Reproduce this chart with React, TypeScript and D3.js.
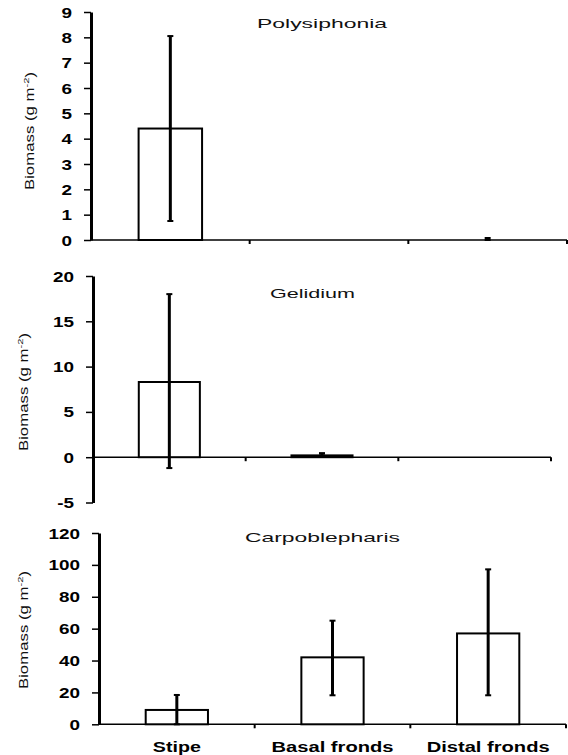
import React, { useRef, useEffect } from 'react';
import * as d3 from 'd3';

// categories along the bottom axis
const categories = ['Stipe', 'Basal fronds', 'Distal fronds'];

// Polysiphonia
const polyMean = [4.4, 0, 0];
const polyUpper = [8.05, 0, 0.08];
const polyLower = [0.75, 0, 0];
const polyTicks = [0, 1, 2, 3, 4, 5, 6, 7, 8, 9];

// Gelidium
const gelMean = [8.3, 0.2, 0];
const gelUpper = [18, 0.45, 0];
const gelLower = [-1.2, 0.2, 0];
const gelTicks = [-5, 0, 5, 10, 15, 20];

// Carpoblepharis
const carpMean = [9, 42, 57];
const carpUpper = [18.4, 65, 97.2];
const carpLower = [0, 18.2, 18.2];
const carpTicks = [0, 20, 40, 60, 80, 100, 120];

const W = 568;
const H = 755;

export default function App() {
  const svgRef = useRef(null);

  useEffect(() => {
    const svg = d3.select(svgRef.current);
    svg.selectAll('*').remove();

    const panels = [
      {
        title: 'Polysiphonia', mean: polyMean, upper: polyUpper, lower: polyLower, ticks: polyTicks,
        left: 91, right: 567, yRange: [240, 12],
        titleX: 257, titleY: 28, titleLen: 130, labelX: 34, labelY: 131, showCats: false,
      },
      {
        title: 'Gelidium', mean: gelMean, upper: gelUpper, lower: gelLower, ticks: gelTicks,
        left: 93, right: 551, yRange: [502.5, 276],
        titleX: 270, titleY: 298, titleLen: 85, labelX: 28, labelY: 392, showCats: false,
      },
      {
        title: 'Carpoblepharis', mean: carpMean, upper: carpUpper, lower: carpLower, ticks: carpTicks,
        left: 99, right: 566, yRange: [724.3, 533],
        titleX: 245, titleY: 542, titleLen: 155, labelX: 28, labelY: 630, showCats: true,
      },
    ];

    panels.forEach((p) => {
      const g = svg.append('g');
      const y = d3.scaleLinear()
        .domain(d3.extent(p.ticks))
        .range(p.yRange);
      const x = d3.scaleBand()
        .domain(categories)
        .range([p.left, p.right])
        .paddingInner(0.6)
        .paddingOuter(0.3);
      const step = x.step();
      const y0 = y(0);

      // x axis line with downward ticks at category boundaries
      g.append('line')
        .attr('x1', p.left).attr('x2', p.right)
        .attr('y1', y0).attr('y2', y0)
        .attr('stroke', '#000').attr('stroke-width', 1.5);
      categories.forEach((c, i) => {
        const tx = p.left + (i + 1) * step;
        g.append('line')
          .attr('x1', tx).attr('x2', tx)
          .attr('y1', y0).attr('y2', y0 + 4)
          .attr('stroke', '#000').attr('stroke-width', 2);
      });

      // bars
      g.selectAll('rect.bar')
        .data(categories.filter((c, i) => p.mean[i] > 0))
        .enter()
        .append('rect')
        .attr('class', 'bar')
        .attr('x', (c) => x(c))
        .attr('width', x.bandwidth())
        .attr('y', (c) => y(p.mean[categories.indexOf(c)]))
        .attr('height', (c) => y0 - y(p.mean[categories.indexOf(c)]))
        .attr('fill', '#fff')
        .attr('stroke', '#000')
        .attr('stroke-width', 2);

      // error bars
      categories.forEach((c, i) => {
        if (p.upper[i] === p.lower[i]) return;
        const cx = x(c) + x.bandwidth() / 2;
        g.append('line')
          .attr('x1', cx).attr('x2', cx)
          .attr('y1', y(p.upper[i])).attr('y2', y(p.lower[i]))
          .attr('stroke', '#000').attr('stroke-width', 3);
        [p.upper[i], p.lower[i]].forEach((v) => {
          g.append('line')
            .attr('x1', cx - 3).attr('x2', cx + 3)
            .attr('y1', y(v)).attr('y2', y(v))
            .attr('stroke', '#000').attr('stroke-width', 2);
        });
      });

      // y axis
      const ax = g.append('g')
        .attr('transform', `translate(${p.left},0)`)
        .call(d3.axisLeft(y).tickValues(p.ticks).tickSize(7).tickSizeOuter(0)
          .tickFormat((d) => String(d)));
      ax.select('.domain').attr('stroke-width', 3);
      ax.selectAll('.tick line').attr('stroke-width', 1.5);
      ax.selectAll('.tick text')
        .attr('x', 0)
        .attr('dy', '0.36em')
        .attr('transform', 'translate(-19,0) scale(1.35,1)')
        .attr('font-family', 'Liberation Sans, Arial, sans-serif')
        .attr('font-weight', 'bold')
        .attr('font-size', 14)
        .attr('fill', '#000');

      // title
      g.append('text')
        .attr('x', p.titleX)
        .attr('y', p.titleY)
        .attr('textLength', p.titleLen)
        .attr('lengthAdjust', 'spacingAndGlyphs')
        .attr('font-family', 'Liberation Sans, Arial, sans-serif')
        .attr('font-size', 13)
        .attr('fill', '#111')
        .text(p.title);

      // y label
      const lab = g.append('text')
        .attr('transform', `translate(${p.labelX},${p.labelY}) rotate(-90) scale(1.4,1)`)
        .attr('text-anchor', 'middle')
        .attr('font-family', 'Liberation Sans, Arial, sans-serif')
        .attr('font-size', 12)
        .attr('fill', '#111');
      lab.append('tspan').text('Biomass (g m');
      lab.append('tspan').attr('font-size', 8).attr('dy', -5).text('-2');
      lab.append('tspan').attr('dy', 5).text(')');

      // category labels on the bottom panel only
      if (p.showCats) {
        const lens = [48, 122, 123];
        categories.forEach((c, i) => {
          g.append('text')
            .attr('x', x(c) + x.bandwidth() / 2 - lens[i] / 2)
            .attr('y', 752)
            .attr('textLength', lens[i])
            .attr('lengthAdjust', 'spacingAndGlyphs')
            .attr('font-family', 'Liberation Sans, Arial, sans-serif')
            .attr('font-weight', 'bold')
            .attr('font-size', 14)
            .attr('fill', '#000')
            .text(c);
        });
      }
    });
  }, []);

  return (
    <svg
      ref={svgRef}
      width={W}
      height={H}
      style={{ position: 'absolute', left: 0, top: 0, background: '#fff' }}
    />
  );
}
